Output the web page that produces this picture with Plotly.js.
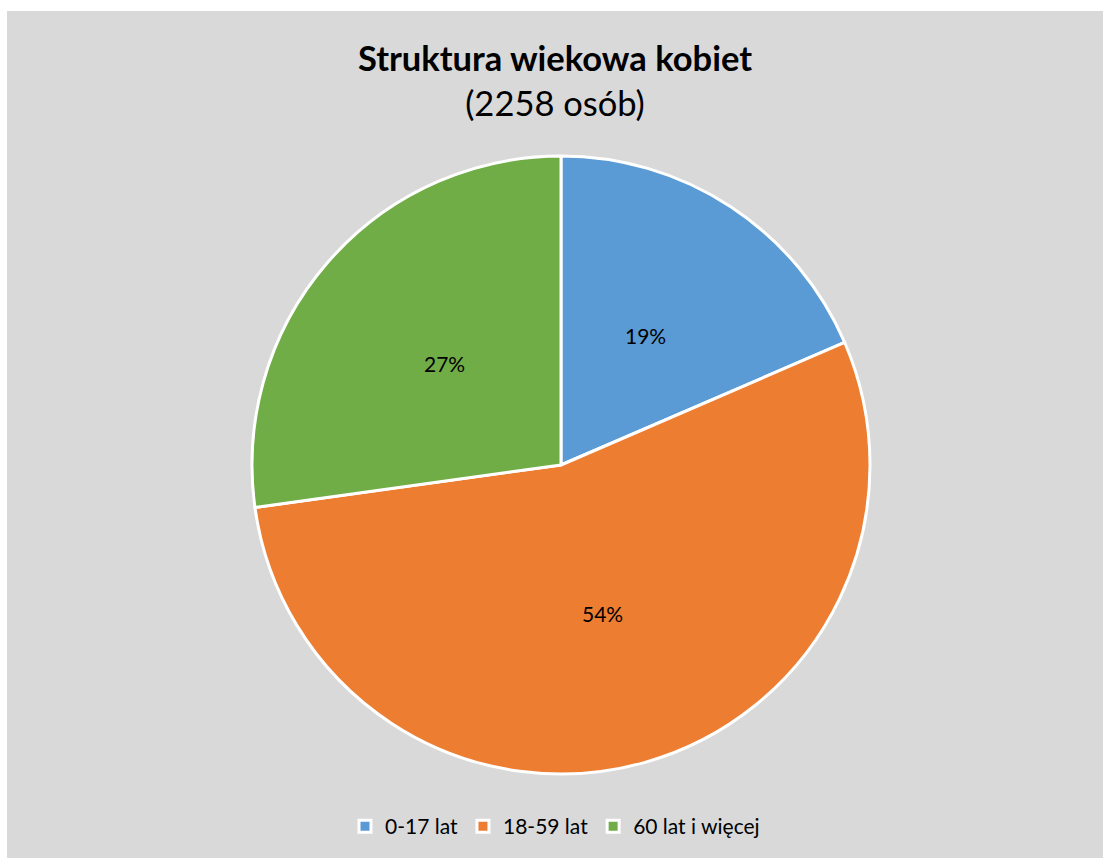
<!DOCTYPE html>
<html>
<head>
<meta charset="utf-8">
<script src="https://cdn.plot.ly/plotly-3.0.1.min.js"></script>
<style>
  html, body { margin: 0; padding: 0; background: #ffffff; }
  #chart { position: absolute; left: 7px; top: 11px; width: 1096px; height: 847px; }
</style>
</head>
<body>
<div id="chart"></div>
<script>
const categories = ["0-17 lat", "18-59 lat", "60 lat i więcej"];
const values = [418, 1226, 614];
const colors = ["#5B9BD5", "#ED7D31", "#70AD47"];
const titleMain = "Struktura wiekowa kobiet";
const titleSub = "(2258 osób)";

const FONT = "Lato, 'Open Sans', sans-serif";

// pie geometry (paper fractions of the 1096x847 plot)
const W = 1096, H = 847;
const cx = 554, cy = 393, R = 309; // center from left / bottom, radius in px
const domX = [(cx - R) / W, (cx + R) / W];
const domY = [(cy - R) / H, (cy + R) / H];

const trace = {
  type: "pie",
  labels: categories,
  values: values,
  sort: false,
  direction: "clockwise",
  rotation: 0,
  marker: { colors: colors, line: { color: "#ffffff", width: 3 } },
  textinfo: "none",
  textposition: "none",
  hoverinfo: "label+value+percent",
  domain: { x: domX, y: domY }
};

// percentage labels placed at half radius, at each slice's mid-angle
const total = values.reduce((a, b) => a + b, 0);
const annotations = [];
let cum = 0;
values.forEach((v, i) => {
  const mid = (cum + v / 2) / total * 2 * Math.PI;
  cum += v;
  const px = cx + 0.5 * R * Math.sin(mid);
  const py = cy + 0.5 * R * Math.cos(mid);
  annotations.push({
    xref: "paper", yref: "paper",
    x: px / W, y: py / H,
    xanchor: "center", yanchor: "middle",
    showarrow: false,
    text: Math.round(v / total * 100) + "%",
    font: { family: FONT, size: 21, color: "#000000" }
  });
});

const layout = {
  width: W,
  height: H,
  paper_bgcolor: "#D9D9D9",
  plot_bgcolor: "#D9D9D9",
  margin: { l: 0, r: 0, t: 0, b: 0 },
  font: { family: FONT, color: "#000000" },
  title: {
    text: "<b>" + titleMain + "</b><br>" + titleSub,
    font: { family: FONT, size: 34.5, color: "#000000" },
    x: 0.5, xanchor: "center",
    y: 0.929, yanchor: "top"
  },
  annotations: annotations,
  showlegend: true,
  legend: {
    orientation: "h",
    x: 0.5, xanchor: "center",
    y: 0.013, yanchor: "bottom",
    font: { family: FONT, size: 21, color: "#000000" },
    bgcolor: "rgba(0,0,0,0)",
    itemwidth: 30,
    traceorder: "normal"
  }
};

Plotly.newPlot("chart", [trace], layout, { displayModeBar: false });
</script>
</body>
</html>
